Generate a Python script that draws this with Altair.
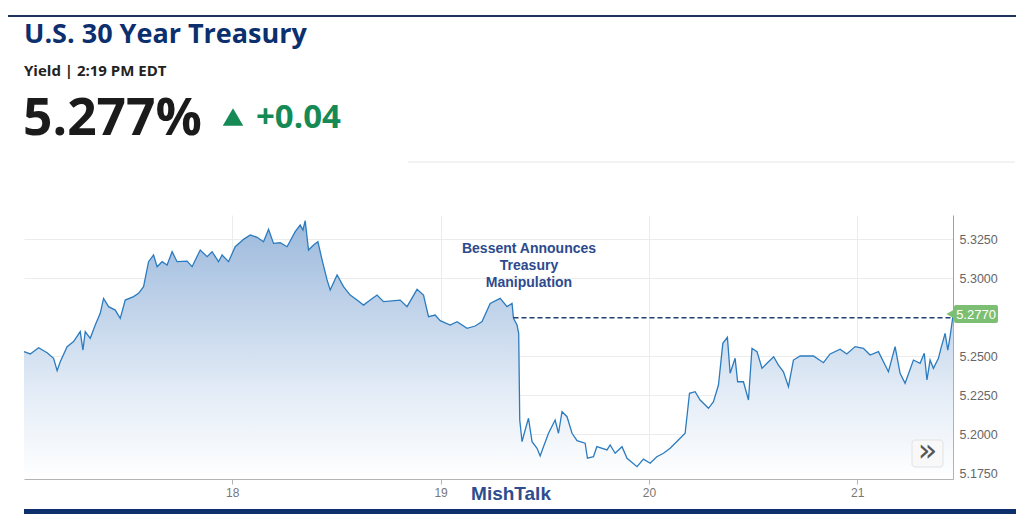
import altair as alt
import pandas as pd

# ---- data ----
days = [17.000, 17.030, 17.070, 17.111, 17.142, 17.159, 17.174, 17.207, 17.238, 17.270,
        17.283, 17.294, 17.318, 17.342, 17.366, 17.382, 17.406, 17.438, 17.462, 17.486,
        17.526, 17.550, 17.574, 17.598, 17.622, 17.639, 17.663, 17.687, 17.711, 17.735,
        17.783, 17.807, 17.846, 17.879, 17.903, 17.934, 17.951, 17.982, 18.014, 18.054,
        18.086, 18.119, 18.150, 18.174, 18.198, 18.230, 18.263, 18.302, 18.326, 18.339,
        18.350, 18.366, 18.390, 18.411, 18.431, 18.455, 18.470, 18.503, 18.534, 18.566,
        18.599, 18.630, 18.662, 18.695, 18.726, 18.806, 18.839, 18.887, 18.918, 18.942,
        18.974, 18.998, 19.046, 19.079, 19.127, 19.166, 19.199, 19.238, 19.286, 19.319,
        19.343, 19.350, 19.367, 19.375, 19.380, 19.391, 19.406, 19.422, 19.439, 19.463,
        19.478, 19.494, 19.518, 19.550, 19.566, 19.583, 19.607, 19.631, 19.655, 19.694,
        19.705, 19.734, 19.750, 19.799, 19.814, 19.838, 19.871, 19.895, 19.943, 19.974,
        20.006, 20.038, 20.070, 20.102, 20.150, 20.174, 20.195, 20.222, 20.246, 20.286,
        20.310, 20.334, 20.355, 20.377, 20.390, 20.414, 20.426, 20.454, 20.478, 20.495,
        20.519, 20.543, 20.567, 20.599, 20.622, 20.646, 20.670, 20.694, 20.726, 20.790,
        20.838, 20.870, 20.918, 20.950, 20.990, 21.030, 21.062, 21.102, 21.150, 21.182,
        21.206, 21.230, 21.270, 21.302, 21.322, 21.335, 21.350, 21.366, 21.390, 21.402,
        21.422, 21.435, 21.446, 21.461]
yields = [5.2529, 5.2514, 5.2554, 5.2522, 5.2486, 5.2407, 5.2464, 5.2560, 5.2593, 5.2657,
          5.2539, 5.2657, 5.2614, 5.2699, 5.2774, 5.2870, 5.2817, 5.2795, 5.2742, 5.2859,
          5.2881, 5.2902, 5.2945, 5.3105, 5.3148, 5.3073, 5.3105, 5.3084, 5.3169, 5.3105,
          5.3109, 5.3073, 5.3180, 5.3137, 5.3169, 5.3105, 5.3148, 5.3105, 5.3201, 5.3248,
          5.3276, 5.3261, 5.3233, 5.3312, 5.3222, 5.3226, 5.3201, 5.3297, 5.3340, 5.3308,
          5.3367, 5.3180, 5.3212, 5.3233, 5.3116, 5.2988, 5.2924, 5.3020, 5.2945, 5.2891,
          5.2859, 5.2827, 5.2859, 5.2891, 5.2849, 5.2859, 5.2817, 5.2928, 5.2891, 5.2753,
          5.2763, 5.2727, 5.2699, 5.2721, 5.2678, 5.2693, 5.2721, 5.2838, 5.2870, 5.2817,
          5.2838, 5.2742, 5.2699, 5.2646, 5.2091, 5.1952, 5.2027, 5.2102, 5.1952, 5.1910,
          5.1861, 5.1920, 5.2006, 5.2091, 5.2006, 5.2144, 5.2112, 5.2006, 5.1959, 5.1942,
          5.1846, 5.1856, 5.1920, 5.1899, 5.1931, 5.1878, 5.1920, 5.1846, 5.1792, 5.1840,
          5.1814, 5.1856, 5.1878, 5.1910, 5.1974, 5.2006, 5.2262, 5.2272, 5.2219, 5.2166,
          5.2208, 5.2315, 5.2582, 5.2621, 5.2390, 5.2486, 5.2336, 5.2336, 5.2219, 5.2550,
          5.2529, 5.2422, 5.2454, 5.2496, 5.2443, 5.2400, 5.2304, 5.2475, 5.2501, 5.2501,
          5.2458, 5.2514, 5.2544, 5.2514, 5.2561, 5.2550, 5.2507, 5.2529, 5.2400, 5.2561,
          5.2390, 5.2326, 5.2475, 5.2454, 5.2518, 5.2347, 5.2475, 5.2422, 5.2486, 5.2550,
          5.2646, 5.2539, 5.2625, 5.2770]

x_ticks = [18, 19, 20, 21]
y_ticks = [5.175, 5.200, 5.225, 5.250, 5.300, 5.325]
x_domain = [17.0, 21.46]
y_domain = [5.1713, 5.3404]
y_base = 5.1713
last_price = 5.2770
line_level = 5.2746
line_start = 19.35
annotation_lines = ["Bessent Announces", "Treasury", "Manipulation"]

df = pd.DataFrame({"day": days, "yield": yields})

W, H = 929, 264
FONT = "Liberation Sans"
HFONT = "Open Sans"

xs = alt.Scale(domain=x_domain, nice=False, zero=False)
ys = alt.Scale(domain=y_domain, nice=False, zero=False)

x_enc = alt.X("day:Q", scale=xs,
              axis=alt.Axis(values=x_ticks, format="d", title=None, grid=True,
                            gridColor="#ececec", domainColor="#b3b3b3", tickColor="#b3b3b3",
                            tickSize=5, labelColor="#777777", labelFontSize=12,
                            labelFont=FONT, labelPadding=3))
y_enc = alt.Y("yield:Q", scale=ys,
              axis=alt.Axis(orient="right", values=y_ticks, format=".4f", title=None,
                            grid=True, gridColor="#ececec", domainColor="#a0a0a0",
                            ticks=False, labelColor="#666666", labelFontSize=12.5,
                            labelFont=FONT, labelPadding=6))

base = alt.Chart(df)

area = base.mark_area(
    color=alt.Gradient(gradient="linear",
                       stops=[alt.GradientStop(color="#ffffff", offset=0),
                              alt.GradientStop(color="#e2ebf6", offset=0.35),
                              alt.GradientStop(color="#9cb9dc", offset=1)],
                       x1=1, x2=1, y1=1, y2=0),
    line=False,
).encode(x=x_enc, y=y_enc, y2=alt.datum(y_base))

line = base.mark_line(color="#2b7bbf", strokeWidth=1.3).encode(
    x=alt.X("day:Q", scale=xs), y=alt.Y("yield:Q", scale=ys))

dash_df = pd.DataFrame({"x1": [line_start], "x2": [x_domain[1]], "y": [line_level]})
dash = alt.Chart(dash_df).mark_rule(color="#22406f", strokeWidth=1.5, strokeDash=[5, 3]).encode(
    x=alt.X("x1:Q", scale=xs), x2="x2:Q", y=alt.Y("y:Q", scale=ys))

# price tag on the right axis
tag_box = alt.Chart(dash_df).mark_rect(color="#7dbf72", cornerRadius=2).encode(
    x=alt.value(930), x2=alt.value(974), y=alt.value(90), y2=alt.value(108))
tag_arrow = alt.Chart(dash_df).mark_point(shape="triangle-left", filled=True, opacity=1,
                                          color="#7dbf72", size=300).encode(
    x=alt.value(930), y=alt.value(99))
tag_text = alt.Chart(pd.DataFrame({"t": [f"{last_price:.4f}"]})).mark_text(
    color="#ffffff", fontSize=13, font=FONT, baseline="middle", align="center").encode(
    x=alt.value(952), y=alt.value(99.5), text="t:N")

# annotation
ann_df = pd.DataFrame({"t": annotation_lines, "y": [38, 55, 72]})
ann = alt.Chart(ann_df).mark_text(color="#2d4a8c", fontSize=14, fontWeight="bold", font=FONT,
                                  align="center", baseline="alphabetic").encode(
    x=alt.value(505), y=alt.Y("y:Q", scale=None), text="t:N")

# header texts
def txt(s, x, y, size, color, weight="bold", font=HFONT, align="left"):
    return alt.Chart(pd.DataFrame({"t": [s]})).mark_text(
        color=color, fontSize=size, fontWeight=weight, font=font, align=align,
        baseline="alphabetic").encode(x=alt.value(x), y=alt.value(y), text="t:N")

title = txt("U.S. 30 Year Treasury", 0, -172, 27, "#0c2f6e")
sub = txt("Yield | 2:19 PM EDT", 0, -139, 15, "#222222")
price = txt("5.277%", -1, -80, 51.5, "#1b1b1b")
change = txt("+0.04", 232, -87, 33, "#158a55")
tri = alt.Chart(dash_df).mark_point(shape="triangle-up", filled=True, opacity=1,
                                    color="#158a55", size=420).encode(
    x=alt.value(209), y=alt.value(-98))
mish = txt("MishTalk", 487, 285, 19, "#2e4d8f", font=FONT, align="center")

# decorative rules
top_rule = alt.Chart(dash_df).mark_rule(color="#1c3260", strokeWidth=2).encode(
    x=alt.value(-16), x2=alt.value(992), y=alt.value(-199))
grey_rule = alt.Chart(dash_df).mark_rule(color="#e6e6e6", strokeWidth=1).encode(
    x=alt.value(384), x2=alt.value(991), y=alt.value(-53))
bottom_rule = alt.Chart(dash_df).mark_rule(color="#0d2f6b", strokeWidth=5).encode(
    x=alt.value(0), x2=alt.value(992), y=alt.value(296.5))

# "»" button
btn = alt.Chart(dash_df).mark_rect(fill="#f8f8f8", stroke="#e2e2e2", strokeWidth=1,
                                   cornerRadius=3).encode(
    x=alt.value(888), x2=alt.value(919), y=alt.value(225), y2=alt.value(252))
btn_txt = alt.Chart(pd.DataFrame({"t": ["»"]})).mark_text(
    color="#555555", fontSize=32, font="DejaVu Sans", align="center", baseline="middle").encode(
    x=alt.value(903.5), y=alt.value(236), text="t:N")

chart = alt.layer(
    area, line, dash, tag_arrow, tag_box, tag_text, ann,
    title, sub, price, change, tri, mish,
    top_rule, grey_rule, bottom_rule, btn, btn_txt,
).properties(
    width=W, height=H,
    padding={"left": 16, "top": 207, "right": 63, "bottom": 36},
    autosize=alt.AutoSizeParams(type="none"),
    background="#ffffff",
).configure_view(stroke=None)

chart.save("out.html", embed_options={"renderer": "svg", "actions": False})
